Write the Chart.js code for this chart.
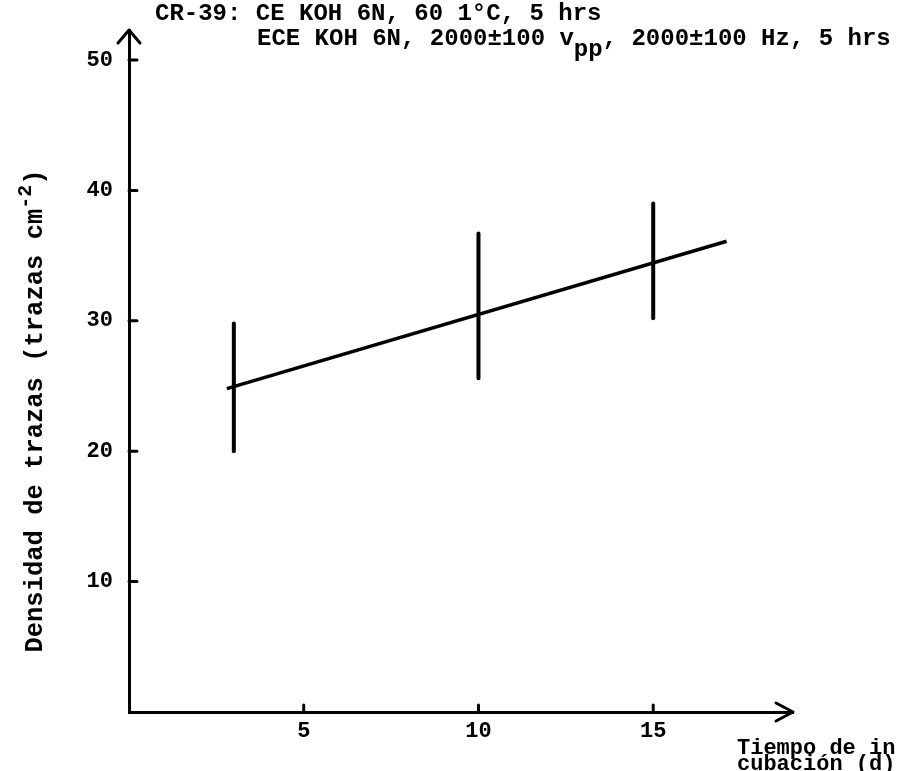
<!DOCTYPE html>
<html>
<head>
<meta charset="utf-8">
<script src="https://cdn.jsdelivr.net/npm/chart.js@4"></script>
<style>
  html, body { margin: 0; padding: 0; background: #fff; }
  #wrap { width: 909px; height: 771px; }
</style>
</head>
<body>
<div id="wrap"><canvas id="chart" width="909" height="771"></canvas></div>
<script>
// Values
const xTicks = [5, 10, 15];
const yTicks = [10, 20, 30, 40, 50];
const fitX = [2.8, 17.1];
const fitY = [24.8, 36.1];
const barX = [3, 10, 15];
const barLow = [20, 25.6, 30.2];
const barHigh = [29.8, 36.7, 39.0];

const FONT = '"Liberation Mono", "Courier New", monospace';

// Fitted line
const datasets = [{
    data: fitX.map((x, i) => ({x: x, y: fitY[i]})),
    borderColor: '#000', borderWidth: 3.5, pointRadius: 0, fill: false, tension: 0
}];
// Error bars, one small dataset each
barX.forEach((x, i) => {
    datasets.push({
        data: [{x: x, y: barLow[i]}, {x: x, y: barHigh[i]}],
        borderColor: '#000', borderWidth: 4, pointRadius: 0, fill: false, borderCapStyle: 'round'
    });
});

// Arrows, inward ticks and the typed texts
const decor = {
    id: 'decor',
    afterDraw(chart) {
        const ctx = chart.ctx;
        const a = chart.chartArea;
        const xs = chart.scales.x, ys = chart.scales.y;
        ctx.save();
        ctx.strokeStyle = '#000';
        ctx.fillStyle = '#000';
        ctx.lineWidth = 3;
        ctx.lineCap = 'round';
        ctx.lineJoin = 'round';

        // arrow heads
        ctx.beginPath();
        ctx.moveTo(a.left - 11, a.top + 13); ctx.lineTo(a.left, a.top); ctx.lineTo(a.left + 11, a.top + 13);
        ctx.moveTo(a.right - 17, a.bottom - 9); ctx.lineTo(a.right, a.bottom); ctx.lineTo(a.right - 17, a.bottom + 9);
        ctx.stroke();

        // inward tick marks
        ctx.beginPath();
        yTicks.forEach(v => {
            const y = ys.getPixelForValue(v);
            ctx.moveTo(a.left, y); ctx.lineTo(a.left + 8, y);
        });
        xTicks.forEach(v => {
            const x = xs.getPixelForValue(v);
            ctx.moveTo(x, a.bottom); ctx.lineTo(x, a.bottom - 7);
        });
        ctx.stroke();

        // header
        ctx.font = 'bold 24px ' + FONT;
        ctx.textBaseline = 'alphabetic';
        ctx.textAlign = 'left';
        ctx.fillText('CR-39: CE KOH 6N, 60 1°C, 5 hrs', 155, 20);
        let x = 257;
        const p1 = 'ECE KOH 6N, 2000±100 v';
        ctx.fillText(p1, x, 45);
        x += ctx.measureText(p1).width;
        ctx.fillText('pp', x, 56);
        x += ctx.measureText('pp').width;
        ctx.fillText(', 2000±100 Hz, 5 hrs', x, 45);

        // x axis title
        ctx.font = 'bold 22px ' + FONT;
        ctx.fillText('Tiempo de in', 737, 754);
        ctx.fillText('cubación (d)', 737, 770);

        // y axis title, rotated, with superscript
        const big = 'bold 25.5px ' + FONT, small = 'bold 20px ' + FONT;
        ctx.translate(42, 411);
        ctx.rotate(-Math.PI / 2);
        const t1 = 'Densidad de trazas (trazas cm';
        const t2 = '-2';
        const t3 = ')';
        ctx.font = big;
        const w1 = ctx.measureText(t1).width;
        const w3 = ctx.measureText(t3).width;
        ctx.font = small;
        const w2 = ctx.measureText(t2).width;
        let s = -(w1 + w2 + w3) / 2;
        ctx.font = big;
        ctx.fillText(t1, s, 0);
        s += w1;
        ctx.font = small;
        ctx.fillText(t2, s, -11);
        s += w2;
        ctx.font = big;
        ctx.fillText(t3, s, 0);
        ctx.restore();
    }
};

new Chart(document.getElementById('chart'), {
    type: 'line',
    data: {datasets: datasets},
    options: {
        responsive: false,
        animation: false,
        events: [],
        layout: {padding: {left: 0, top: 30, right: 116, bottom: 0}},
        plugins: {legend: {display: false}, tooltip: {enabled: false}, title: {display: false}},
        scales: {
            x: {
                type: 'linear', min: 0, max: 19,
                afterBuildTicks: s => { s.ticks = xTicks.map(v => ({value: v})); },
                afterFit: s => { s.height = 59; },
                grid: {display: true, drawOnChartArea: false, drawTicks: false},
                border: {display: true, color: '#000', width: 3},
                ticks: {color: '#000', padding: 6, font: {family: FONT, size: 22, weight: 'bold'}}
            },
            y: {
                type: 'linear', min: 0, max: 52.3,
                afterBuildTicks: s => { s.ticks = yTicks.map(v => ({value: v})); },
                afterFit: s => { s.width = 129; },
                grid: {display: true, drawOnChartArea: false, drawTicks: false},
                border: {display: true, color: '#000', width: 3},
                ticks: {color: '#000', padding: 16, font: {family: FONT, size: 22, weight: 'bold'}}
            }
        }
    },
    plugins: [decor]
});
</script>
</body>
</html>
